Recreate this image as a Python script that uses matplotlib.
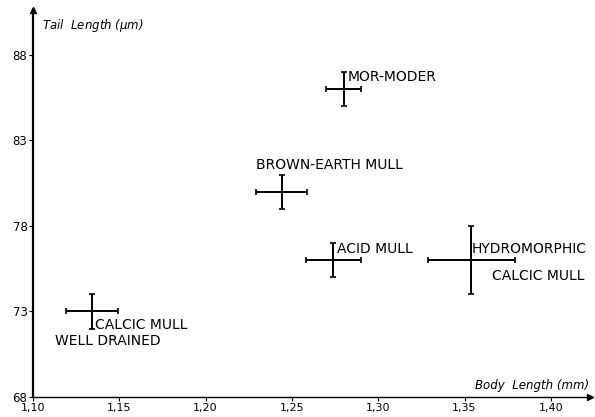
import matplotlib.pyplot as plt

# mean body length (mm) and tail length (um) per soil type, with spread
soil = ['MOR-MODER', 'BROWN-EARTH MULL', 'ACID MULL',
        'HYDROMORPHIC CALCIC MULL', 'CALCIC MULL WELL DRAINED']
body = [1.280, 1.244, 1.274, 1.354, 1.134]
body_err = [0.010, 0.015, 0.016, 0.025, 0.015]
tail = [86.0, 80.0, 76.0, 76.0, 73.0]
tail_err = [1.0, 1.0, 1.0, 2.0, 1.0]

x_ticks = [1.10, 1.15, 1.20, 1.25, 1.30, 1.35, 1.40]
x_ticklabels = ['1,10', '1,15', '1,20', '1,25', '1,30', '1,35', '1,40']
y_ticks = [68, 73, 78, 83, 88]

fig = plt.figure(figsize=(5.95, 4.17), dpi=100)
ax = fig.add_axes([33/595, 20/417, 557/595, 387/417])
ax.set_xlim(1.10, 1.4227)
ax.set_ylim(68, 90.63)

ax.errorbar(body, tail, xerr=body_err, yerr=tail_err, fmt='none',
            ecolor='black', elinewidth=1.4, capsize=2, capthick=1.2)

# labels beside each cross
fs = 10
ax.text(1.2825, 86.74, 'MOR-MODER', fontsize=fs, va='center', ha='left')
ax.text(1.229, 81.54, 'BROWN-EARTH MULL', fontsize=fs, va='center', ha='left')
ax.text(1.276, 76.68, 'ACID MULL', fontsize=fs, va='center', ha='left')
ax.text(1.4205, 76.68, 'HYDROMORPHIC', fontsize=fs, va='center', ha='right')
ax.text(1.4195, 75.08, 'CALCIC MULL', fontsize=fs, va='center', ha='right')
ax.text(1.136, 72.21, 'CALCIC MULL', fontsize=fs, va='center', ha='left')
ax.text(1.113, 71.27, 'WELL DRAINED', fontsize=fs, va='center', ha='left')

# axes drawn as arrows from the origin
for s in ['top', 'right']:
    ax.spines[s].set_visible(False)
ax.spines['left'].set_linewidth(1.6)
ax.spines['bottom'].set_linewidth(1.0)
ax.plot(1, 0, '>k', markersize=4, transform=ax.transAxes, clip_on=False)
ax.plot(0, 1, '^k', markersize=4, transform=ax.transAxes, clip_on=False)

ax.set_xticks(x_ticks)
ax.set_xticklabels(x_ticklabels, fontsize=8)
ax.set_yticks(y_ticks)
ax.set_yticklabels([str(v) for v in y_ticks], fontsize=8.5)
ax.tick_params(direction='out', length=3, width=0.8, pad=1)

ax.text(0.016, 0.96, r'Tail  Length ($\mu$m)', transform=ax.transAxes,
        fontsize=8.5, style='italic', va='center', ha='left')
ax.text(0.998, 0.03, 'Body  Length (mm)', transform=ax.transAxes,
        fontsize=8.5, style='italic', va='center', ha='right')

fig.savefig('out.png', dpi=100)
